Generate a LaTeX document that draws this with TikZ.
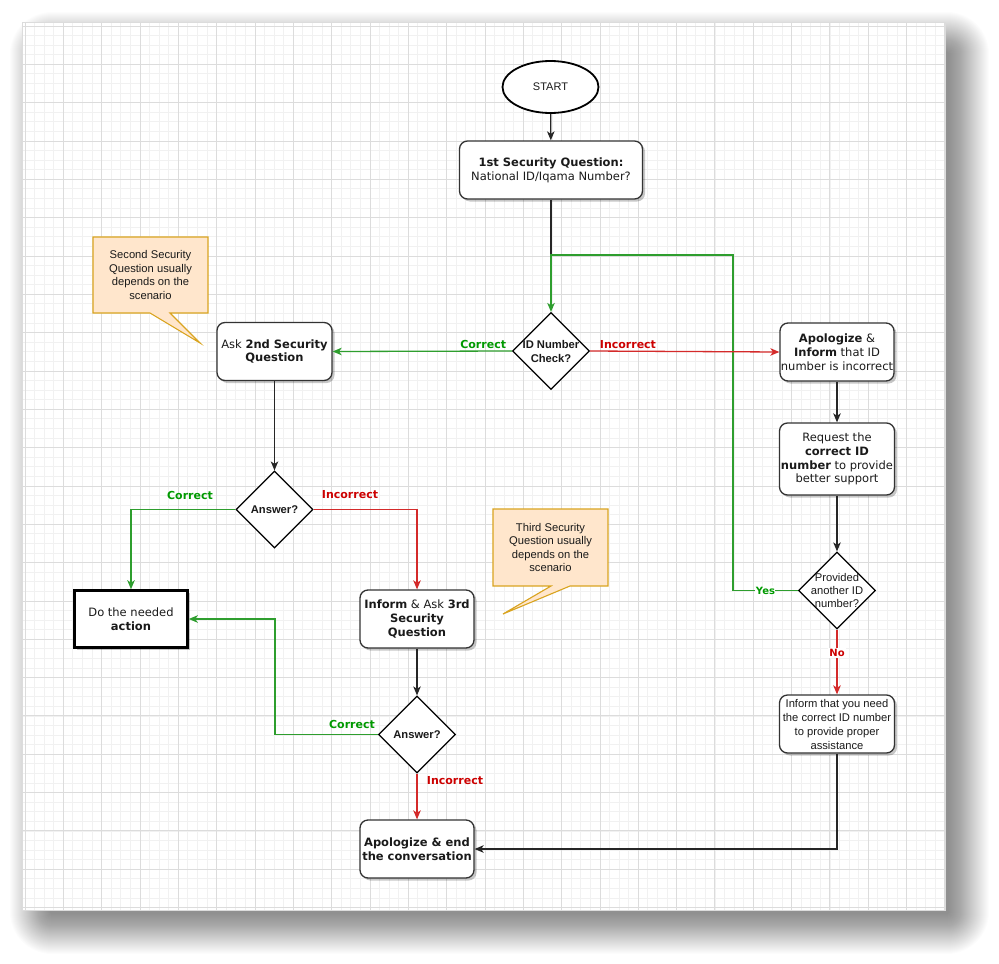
\documentclass[tikz,border=0pt]{standalone}
\usepackage{fontspec}
\setmainfont{DejaVu Sans}
\newfontfamily\arial{Liberation Sans}
\usetikzlibrary{shapes.geometric,arrows.meta,shadows}
\definecolor{gridminor}{HTML}{F1F1F1}
\definecolor{gridmajor}{HTML}{DCDCDC}
\definecolor{boxc}{HTML}{333333}
\definecolor{txt}{HTML}{1A1A1A}
\definecolor{gline}{HTML}{2E9E2E}
\definecolor{gtext}{HTML}{009900}
\definecolor{rline}{HTML}{D42A2A}
\definecolor{rtext}{HTML}{CC0000}
\definecolor{calfill}{HTML}{FFE6CC}
\definecolor{caldraw}{HTML}{D9A420}
\tikzset{
  boxshadow/.style={drop shadow={shadow xshift=2.5pt,shadow yshift=-2.5pt,fill=black,opacity=0.22}},
  flowbox/.style={draw=boxc, line width=1.3pt, rounded corners=8pt, fill=white,
    minimum width=115pt, minimum height=58pt, align=center, inner sep=0pt,
    text=txt, font=\fontsize{11.5}{13.8}\selectfont, boxshadow},
  decis/.style={draw=black, line width=1.2pt, diamond, aspect=1, fill=white,
    minimum width=77pt, minimum height=77pt, inner sep=0pt},
  dtext/.style={align=center, inner sep=0pt, text=txt, font=\arial\fontsize{11.2}{13.3}\selectfont},
  conn/.style={line width=1.3pt, -{Stealth[length=9pt,width=7.5pt,inset=2.5pt]}},
  blk/.style={conn, draw=black!85},
  grn/.style={conn, draw=gline},
  red/.style={conn, draw=rline},
  glab/.style={text=gtext, font=\bfseries\fontsize{11}{13}\selectfont, inner sep=1pt},
  rlab/.style={text=rtext, font=\bfseries\fontsize{11}{13}\selectfont, inner sep=1pt},
  calshape/.style={fill=calfill, draw=caldraw, line width=1.1pt, line join=miter},
  caltext/.style={align=center, inner sep=0pt, text=txt, font=\arial\fontsize{11.2}{13.6}\selectfont},
}
\begin{document}
\begin{tikzpicture}[x=1pt,y=-1pt]
\useasboundingbox (0,0) rectangle (999,964);
\fill[white] (0,0) rectangle (999,964);
% page shadow
\foreach \s in {0,...,40}{
  \fill[black,opacity=0.013,rounded corners={\s pt+2pt}] ({50-\s},{52-\s}) rectangle ({949+\s},{914+\s});
}
% page
\fill[white] (22,22) rectangle (945,910);
\begin{scope}
\clip (22,22) rectangle (945,910);
\foreach \i in {0,...,97}{
  \draw[gridminor,line width=0.9pt] ({15.42+9.583*\i},22) -- ++(0,888);
}
\foreach \j in {0,...,93}{
  \draw[gridminor,line width=0.9pt] (22,{16.42+9.583*\j}) -- ++(923,0);
}
\foreach \k in {0,...,24}{
  \draw[gridmajor,line width=0.9pt] ({25+38.33*\k},22) -- ++(0,888);
}
\foreach \k in {0,...,23}{
  \draw[gridmajor,line width=0.9pt] (22,{26+38.33*\k}) -- ++(923,0);
}
\end{scope}
\draw[gridmajor,line width=0.6pt] (22,22) rectangle (945,910);

% callouts
\path[calshape] (93,237) -- (208,237) -- (208,313) -- (170,313) -- (200,343) -- (150,313) -- (93,313) -- cycle;
\node[caltext] (cal1) at (150.5,275) {Second Security\\Question usually\\depends on the\\scenario};
\path[calshape] (493,509) -- (608,509) -- (608,586) -- (570,586) -- (503,614) -- (551,586) -- (493,586) -- cycle;
\node[caltext] (cal2) at (550.5,547.5) {Third Security\\Question usually\\depends on the\\scenario};

% nodes
\node[draw=black, line width=1.8pt, ellipse, fill=white, minimum width=96pt, minimum height=52pt, inner sep=0pt,
  text=txt, font=\arial\fontsize{11}{13}\selectfont] (start) at (550.5,87) {START};
\node[flowbox, minimum width=183pt] (q1) at (551,170) {\textbf{1st Security Question:}\\National ID/Iqama Number?};
\node[decis] (idchk) at (551,351) {};
\node[dtext, font=\arial\bfseries\fontsize{11.2}{13.3}\selectfont] (idchkt) at (551,351.5) {ID Number\\Check?};
\node[flowbox] (ask2) at (274.5,351.5) {Ask \textbf{2nd Security}\\\textbf{Question}};
\node[flowbox, minimum width=114pt] (apol) at (837,352) {\textbf{Apologize} \&\\\textbf{Inform} that ID\\number is incorrect};
\node[flowbox, minimum height=72pt] (req) at (837,459) {Request the\\\textbf{correct ID}\\\textbf{number} to provide\\better support};
\node[decis] (ans1) at (274.5,509.5) {};
\node[dtext, font=\arial\bfseries\fontsize{11.2}{13.3}\selectfont] (ans1t) at (274.5,509.5) {Answer?};
\node[draw=black, line width=2.6pt, fill=white, minimum width=113pt, minimum height=57pt, inner sep=0pt,
  align=center, text=txt, font=\fontsize{11.5}{13.8}\selectfont, boxshadow] (do) at (131,619) {Do the needed\\\textbf{action}};
\node[flowbox, minimum width=114pt] (inf3) at (417,619) {\textbf{Inform} \& Ask \textbf{3rd}\\\textbf{Security}\\\textbf{Question}};
\node[decis] (ans2) at (417,734.5) {};
\node[dtext, font=\arial\bfseries\fontsize{11.2}{13.3}\selectfont] (ans2t) at (417,734.5) {Answer?};
\node[flowbox, minimum width=114pt] (endb) at (417,849) {\textbf{Apologize \& end}\\\textbf{the conversation}};
\node[decis] (prov) at (837,590.5) {};
\node[dtext] (provt) at (837,590.5) {Provided\\another ID\\number?};
\node[flowbox, font=\arial\fontsize{11.2}{14}\selectfont] (need) at (837,724) {Inform that you need\\the correct ID number\\to provide proper\\assistance};

\coordinate (j) at (551,255);
\coordinate (yc) at (733,255);
\coordinate (c2) at (275,619);

% connectors
\draw[blk] (start) -- (q1);
\draw[line width=1.3pt, draw=black!85] (q1.south) -- (j);
\draw[grn] (prov.west) -- node[fill=white, glab, inner sep=0.5pt, font=\bfseries\fontsize{10}{12}\selectfont] {Yes} (prov.west -| yc) -- (yc) -- (j) -- (idchk.north);
\draw[grn] (idchk.west) -- node[glab, above=1pt, pos=0.16] {Correct} (ask2.east);
\draw[red] (idchk.east) -- node[rlab, above=1pt, pos=0.2] {Incorrect} (apol.west);
\draw[blk] (ask2) -- (ans1);
\draw[grn] (ans1.west) -| (do.north);
\node[glab] (lc1) at (190,495) {Correct};
\draw[red] (ans1.east) -| (inf3.north);
\node[rlab] (li1) at (350,495) {Incorrect};
\draw[blk] (inf3) -- (ans2);
\draw[grn] (ans2.west) -| (c2) -- (do.east);
\node[glab] (lc2) at (352,724) {Correct};
\draw[red] (ans2.south) -- (endb.north);
\node[rlab] (li2) at (455,781) {Incorrect};
\draw[blk] (apol) -- (req);
\draw[blk] (req) -- (prov);
\draw[red] (prov.south) -- node[fill=white, rlab, inner sep=1pt, font=\bfseries\fontsize{10}{12}\selectfont, pos=0.36] {No} (need.north);
\draw[blk] (need.south) |- (endb.east);
\end{tikzpicture}
\end{document}
